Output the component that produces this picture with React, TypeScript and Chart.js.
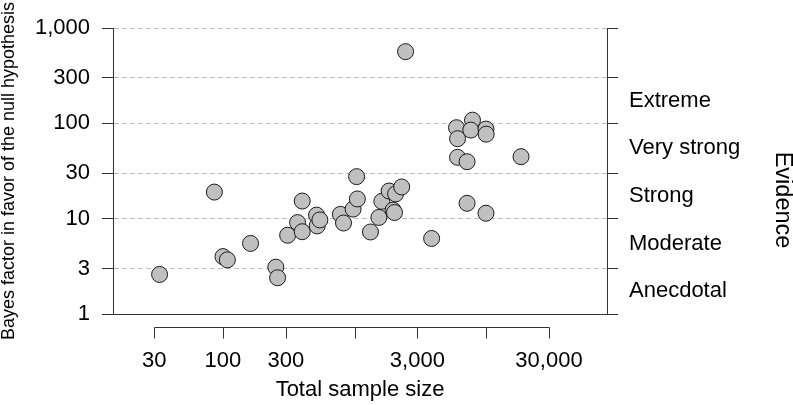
import React, { useEffect, useRef } from 'react';
import { Chart, registerables } from 'chart.js';
Chart.register(...registerables);

const FONT = '"Liberation Sans", Arial, Helvetica, sans-serif';

const sampleSize = [33, 86, 100, 108, 162, 252, 260, 310, 369, 400, 400, 514, 520, 545, 780, 824, 975, 1050, 1036, 1320, 1530, 1610, 1830, 2050, 1960, 2010, 2280, 2440, 3850, 5950, 6060, 6060, 7160, 7160, 7870, 7640, 9960, 10000, 9960, 18400];
const bayesFactor = [2.6, 19, 4.0, 3.7, 5.5, 3.1, 2.4, 6.7, 9.1, 15.3, 7.3, 10.9, 8.4, 9.7, 11.1, 9.0, 12.6, 16.1, 27.6, 7.25, 10.3, 15.2, 19.5, 18.2, 12.3, 11.6, 21.5, 565, 6.2, 90, 69, 44, 39.6, 14.5, 108, 85, 87, 77, 11.4, 44.7];

const xTicks = [30, 100, 300, 1000, 3000, 10000, 30000];
const xLabelled = [30, 100, 300, 3000, 30000];
const yTicks = [1, 3, 10, 30, 100, 300, 1000];
const evidenceBounds = [1, 3, 10, 30, 100, 300];
const evidenceLabels = ['Anecdotal', 'Moderate', 'Strong', 'Very strong', 'Extreme'];

const fmt = (v: number) => v.toLocaleString('en-US');

const midLabels = new Map<number, string>();
evidenceLabels.forEach((lab, i) => {
  midLabels.set(Math.sqrt(evidenceBounds[i] * evidenceBounds[i + 1]), lab);
});
const rightTicks = [...yTicks, ...Array.from(midLabels.keys())].sort((a, b) => a - b);

const detachedAxis = {
  id: 'detachedAxis',
  afterDraw(chart: any) {
    const { ctx, chartArea } = chart;
    const xs = chart.scales.x;
    const y0 = Math.round(chartArea.bottom + 13) + 0.5;
    ctx.save();
    ctx.strokeStyle = '#333';
    ctx.lineWidth = 1;
    ctx.beginPath();
    const a = Math.round(xs.getPixelForValue(xTicks[0])) + 0.5;
    const b = Math.round(xs.getPixelForValue(xTicks[xTicks.length - 1])) + 0.5;
    ctx.moveTo(a, y0);
    ctx.lineTo(b, y0);
    xTicks.forEach((v) => {
      const p = Math.round(xs.getPixelForValue(v)) + 0.5;
      ctx.moveTo(p, y0);
      ctx.lineTo(p, y0 + 11);
    });
    ctx.stroke();
    ctx.font = '23.5px ' + FONT;
    ctx.fillStyle = '#000';
    ctx.translate(chartArea.right + 175, (chartArea.top + chartArea.bottom) / 2 + 29);
    ctx.rotate(Math.PI / 2);
    ctx.textAlign = 'center';
    ctx.textBaseline = 'middle';
    ctx.fillText('Evidence', 0, 0);
    ctx.restore();
  },
};

export default function App() {
  const ref = useRef<HTMLCanvasElement>(null);
  useEffect(() => {
    if (!ref.current) return;
    const chart = new Chart(ref.current, {
      type: 'scatter',
      data: {
        datasets: [
          {
            data: sampleSize.map((x, i) => ({ x, y: bayesFactor[i] })),
            backgroundColor: '#c0c0c0',
            borderColor: '#1a1a1a',
            borderWidth: 1,
            pointRadius: 8,
            pointHoverRadius: 8,
          },
        ],
      },
      options: {
        responsive: false,
        animation: false,
        events: [],
        layout: { padding: { top: 28, left: 0, right: 0, bottom: 0 } },
        plugins: { legend: { display: false }, tooltip: { enabled: false } },
        scales: {
          x: {
            type: 'logarithmic',
            position: 'bottom',
            min: 14.6,
            max: 82800,
            afterBuildTicks: (s: any) => {
              s.ticks = xTicks.map((v) => ({ value: v }));
            },
            afterFit: (s: any) => {
              s.height = 91;
            },
            ticks: {
              autoSkip: false,
              maxRotation: 0,
              color: '#000',
              padding: 34,
              font: { family: FONT, size: 22 },
              callback: (v: any) => (xLabelled.includes(Number(v)) ? fmt(Number(v)) : ''),
            },
            grid: { display: false, drawTicks: false },
            border: { display: true, color: '#333', width: 1 },
            title: {
              display: true,
              text: 'Total sample size',
              color: '#000',
              font: { family: FONT, size: 22 },
              padding: { top: 0, bottom: 2 },
            },
          },
          y: {
            type: 'logarithmic',
            position: 'left',
            min: 1,
            max: 1000,
            afterBuildTicks: (s: any) => {
              s.ticks = yTicks.map((v) => ({ value: v }));
            },
            afterFit: (s: any) => {
              s.width = 113;
            },
            ticks: {
              autoSkip: false,
              color: '#000',
              padding: 12,
              font: { family: FONT, size: 22 },
              callback: (v: any) => fmt(Number(v)),
            },
            grid: {
              color: '#bdbdbd',
              lineWidth: 1,
              tickColor: '#333',
              tickLength: 11,
            },
            border: { display: true, color: '#333', width: 1, dash: [5, 3] },
            title: {
              display: true,
              text: 'Bayes factor in favor of the null hypothesis',
              color: '#000',
              font: { family: FONT, size: 18, lineHeight: 1 },
              padding: { top: 0, bottom: 0 },
            },
          },
          y2: {
            type: 'logarithmic',
            position: 'right',
            min: 1,
            max: 1000,
            afterBuildTicks: (s: any) => {
              s.ticks = rightTicks.map((v) => ({ value: v }));
            },
            afterFit: (s: any) => {
              s.width = 186;
            },
            ticks: {
              autoSkip: false,
              color: '#000',
              padding: 11,
              font: { family: FONT, size: 22 },
              callback: (v: any) => midLabels.get(Number(v)) ?? '',
            },
            grid: {
              drawOnChartArea: false,
              tickLength: 11,
              tickColor: (c: any) => (c.tick && midLabels.has(c.tick.value) ? 'rgba(0,0,0,0)' : '#333'),
            },
            border: { display: true, color: '#333', width: 1 },
          },
        },
      },
      plugins: [detachedAxis],
    } as any);
    return () => chart.destroy();
  }, []);
  return (
    <div style={{ position: 'fixed', left: 0, top: 0, width: 793, height: 405, background: '#fff' }}>
      <canvas ref={ref} width={793} height={405} style={{ display: 'block' }} />
    </div>
  );
}
